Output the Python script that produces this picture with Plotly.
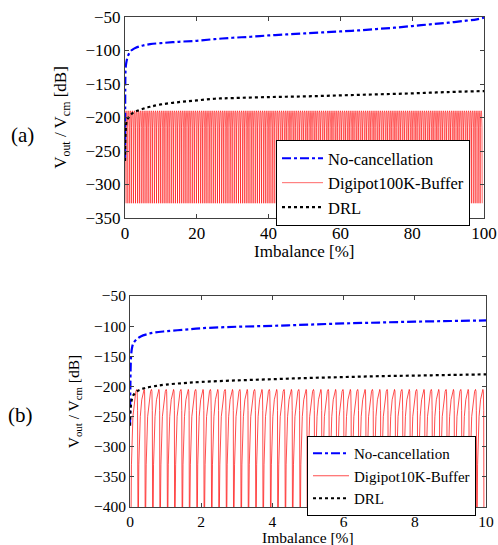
import plotly.graph_objects as go

# ---------------- data ----------------
# Panel (a): 0..100 % imbalance
a_nocancel_x = [0, 0.05, 0.1, 0.2, 0.4, 0.7, 1, 1.5, 2, 3, 4, 5, 7, 10, 15, 20, 25, 30, 35, 40,
                45, 50, 55, 60, 65, 70, 75, 80, 85, 90, 95, 98, 100]
a_nocancel_y = [-260, -180, -140, -125, -117, -110, -106, -101, -99, -96, -94, -92.5, -90.5, -89,
                -87, -85.5, -83, -81, -79.5, -77.5, -76, -74.5, -73, -71.5, -70, -68, -66, -63.5,
                -61, -58.5, -55.5, -53.5, -51]
a_drl_x = [0, 0.2, 0.5, 1, 2, 3, 5, 7, 10, 15, 20, 25, 30, 40, 50, 60, 70, 80, 90, 100]
a_drl_y = [-265, -220, -205, -200, -194, -191, -187, -184, -180.5, -177, -174.5, -172, -171,
           -169.5, -168.5, -167, -165.5, -164, -162, -160.5]
# Digipot100K-Buffer: dense oscillation between these levels
a_dig_start, a_dig_end, a_dig_cycles = 0.0, 99.5, 170
a_dig_phase = [0.0, 0.1, 0.3, 0.5, 0.7, 0.9]
a_dig_level = [-328, -215, -193, -190, -193, -215]

# Panel (b): 0..10 % imbalance
b_nocancel_x = [0, 0.01, 0.03, 0.06, 0.1, 0.2, 0.3, 0.5, 0.7, 1, 1.5, 2, 3, 4, 5, 6, 7, 8, 9, 10]
b_nocancel_y = [-265, -200, -150, -135, -128, -121, -117, -113, -110.5, -108.5, -106, -103.5,
                -101, -99.5, -97.5, -95.5, -94, -92.5, -91.5, -90.5]
b_drl_x = [0, 0.02, 0.05, 0.1, 0.2, 0.4, 0.7, 1, 1.5, 2, 3, 4, 5, 6, 7, 8, 9, 10]
b_drl_y = [-265, -235, -222, -214, -208, -203, -199.5, -197, -194.5, -192.5, -190, -188, -186,
           -184.5, -183, -182, -181, -180]
# Digipot10K-Buffer: periodic arches, dips reaching far below the axis
b_dig_start, b_dig_end, b_dig_cycles = 0.02, 9.95, 48
b_dig_phase = [0.0, 0.1, 0.3, 0.5, 0.7, 0.82, 0.88, 0.93, 0.97]
b_dig_level = [-480, -330, -250, -222, -208, -205, -208, -240, -480]

a_xticks = [0, 20, 40, 60, 80, 100]
a_yticks = [-50, -100, -150, -200, -250, -300, -350]
b_xticks = [0, 2, 4, 6, 8, 10]
b_yticks = [-50, -100, -150, -200, -250, -300, -350, -400]


def tile(start, end, cycles, phase, level):
    period = (end - start) / cycles
    xs, ys = [], []
    for k in range(cycles):
        for p, v in zip(phase, level):
            xs.append(start + (k + p) * period)
            ys.append(v)
    xs.append(end)
    ys.append(level[0])
    return xs, ys


a_dig_x, a_dig_y = tile(a_dig_start, a_dig_end, a_dig_cycles, a_dig_phase, a_dig_level)
b_dig_x, b_dig_y = tile(b_dig_start, b_dig_end, b_dig_cycles, b_dig_phase, b_dig_level)

FONT = "Liberation Serif"
BLUE = "#0000ff"
RED = "#ff0000"

fig = go.Figure()

# panel (a)
fig.add_trace(go.Scatter(x=a_dig_x, y=a_dig_y, mode="lines", name="Digipot100K-Buffer",
                         line=dict(color=RED, width=0.6), xaxis="x", yaxis="y",
                         legend="legend", legendrank=2))
fig.add_trace(go.Scatter(x=a_nocancel_x, y=a_nocancel_y, mode="lines", name="No-cancellation",
                         line=dict(color=BLUE, width=2.2, dash="dashdot", shape="spline"),
                         xaxis="x", yaxis="y", legend="legend", legendrank=1))
fig.add_trace(go.Scatter(x=a_drl_x, y=a_drl_y, mode="lines", name="DRL",
                         line=dict(color="black", width=2.2, dash="dot", shape="spline"),
                         xaxis="x", yaxis="y", legend="legend", legendrank=3))

# panel (b)
fig.add_trace(go.Scatter(x=b_dig_x, y=b_dig_y, mode="lines", name="Digipot10K-Buffer",
                         line=dict(color=RED, width=0.7), xaxis="x2", yaxis="y2",
                         legend="legend2", legendrank=2))
fig.add_trace(go.Scatter(x=b_nocancel_x, y=b_nocancel_y, mode="lines", name="No-cancellation",
                         line=dict(color=BLUE, width=2.2, dash="dashdot", shape="spline"),
                         xaxis="x2", yaxis="y2", legend="legend2", legendrank=1))
fig.add_trace(go.Scatter(x=b_drl_x, y=b_drl_y, mode="lines", name="DRL",
                         line=dict(color="black", width=2.2, dash="dot", shape="spline"),
                         xaxis="x2", yaxis="y2", legend="legend2", legendrank=3))

W, H = 498, 545
AX = "#404040"


def axis_common(fs):
    return dict(showgrid=False, zeroline=False, showline=True, linecolor=AX, linewidth=1,
                mirror="allticks", ticks="inside", ticklen=4, tickcolor=AX,
                tickfont=dict(family=FONT, size=fs, color="black"), automargin=False)


ytitle = "V<sub>out</sub> / V<sub>cm</sub> [dB]"


def label(text, px, py, size):
    return dict(text=text, x=px / W, y=1 - py / H, xref="paper", yref="paper",
                xanchor="center", yanchor="middle", showarrow=False,
                font=dict(family=FONT, size=size))


fig.update_layout(
    width=W, height=H,
    margin=dict(l=0, r=0, t=0, b=0),
    paper_bgcolor="white", plot_bgcolor="white",
    font=dict(family=FONT, color="black", size=16),
    xaxis=dict(domain=[125 / W, 484 / W], range=[0, 100], tickvals=a_xticks,
               anchor="y", **axis_common(17)),
    yaxis=dict(domain=[1 - 218 / H, 1 - 17 / H], range=[-350, -50], tickvals=a_yticks,
               title=dict(text=ytitle, font=dict(family=FONT, size=17), standoff=14),
               anchor="x", **axis_common(17)),
    xaxis2=dict(domain=[130 / W, 486 / W], range=[0, 10], tickvals=b_xticks,
                anchor="y2", **axis_common(15.5)),
    yaxis2=dict(domain=[1 - 507 / H, 1 - 296 / H], range=[-400, -50], tickvals=b_yticks,
                title=dict(text=ytitle, font=dict(family=FONT, size=15.5), standoff=10),
                anchor="x2", **axis_common(15.5)),
    legend=dict(x=276 / W, y=1 - 140 / H, xanchor="left", yanchor="top",
                bgcolor="white", bordercolor="black", borderwidth=1,
                font=dict(family=FONT, size=16.5), itemwidth=41, tracegroupgap=0),
    legend2=dict(x=307 / W, y=1 - 436 / H, xanchor="left", yanchor="top",
                 bgcolor="white", bordercolor="black", borderwidth=1,
                 font=dict(family=FONT, size=15), itemwidth=36, tracegroupgap=0),
    showlegend=True,
    annotations=[
        label("(a)", 22, 135, 21),
        label("(b)", 20, 415, 21),
        label("Imbalance [%]", 304.5, 251, 17),
        label("Imbalance [%]", 308, 537, 15.5),
    ],
)

fig.write_html("out.html", config={"displayModeBar": False},
               post_script="document.body.style.margin='0';document.body.style.overflow='hidden';")
